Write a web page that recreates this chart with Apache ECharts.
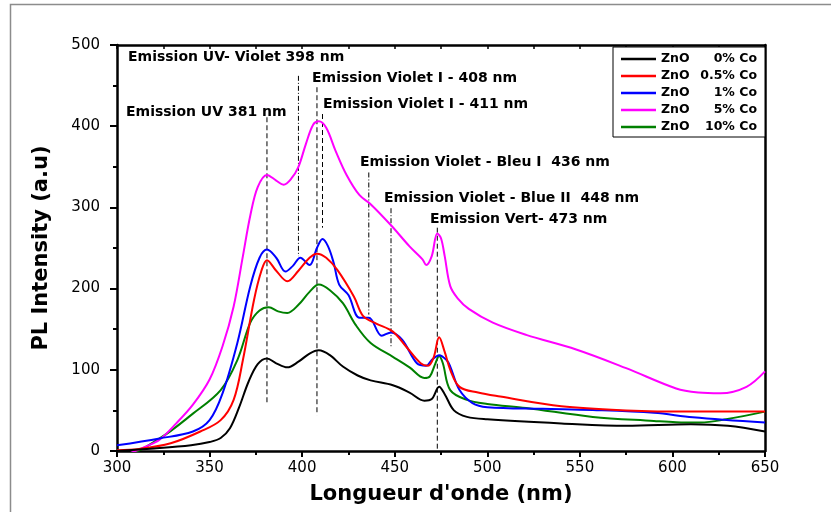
<!DOCTYPE html>
<html>
<head>
<meta charset="utf-8">
<script src="https://cdn.jsdelivr.net/npm/echarts@6/dist/echarts.min.js"></script>
<style>
  html, body { margin: 0; padding: 0; background: #fff; }
  #chart { width: 831px; height: 512px; }
</style>
</head>
<body>
<div id="chart"></div>
<script>
// Photoluminescence spectra of ZnO doped with Co
const seriesNames = ['ZnO 0% Co', 'ZnO 0.5% Co', 'ZnO 1% Co', 'ZnO 5% Co', 'ZnO 10% Co'];
const seriesColors = ['#000000', '#ff0000', '#0000ff', '#ff00ff', '#008000'];

// 0% Co
const wl0 = [300, 320, 340, 350, 356, 361, 366, 371, 376, 381, 386, 392, 398, 404, 409, 415, 422, 430, 437, 449, 458, 466, 470, 474, 477, 482, 489, 500, 540, 575, 610, 630, 650];
const pl0 = [0, 3, 7, 11, 16, 28, 54, 85, 107, 114, 108, 103, 110, 120, 124, 118, 104, 93, 87, 81, 72, 62, 64, 79, 70, 50, 42, 39, 34, 31, 33, 31, 24];

// 0.5% Co
const wl1 = [300, 312, 329, 345, 356, 363, 368, 374, 378, 381, 386, 392, 398, 404, 408, 413, 419, 428, 433, 440, 449, 456, 464, 468, 471, 474, 477, 480, 485, 495, 507, 540, 575, 610, 650];
const pl1 = [1, 2.5, 9.5, 24, 38, 63, 112, 186, 222, 235, 222, 209, 222, 238, 243, 238, 223, 190, 166, 157, 147, 129, 108, 105, 115, 140, 122, 100, 79, 72, 67, 55, 50, 48.5, 48.5];

// 1% Co
const wl2 = [300, 323, 341, 350, 357, 365, 372, 377, 381, 386, 391, 395, 399, 404, 408, 411, 414, 417, 420, 425, 431, 436, 443, 448, 454, 462, 467, 470, 474, 478, 480, 485, 492, 500, 530, 557, 590, 611, 650];
const pl2 = [7, 15.5, 24, 38, 71, 133, 203, 238, 248, 238, 221, 228, 238, 229, 250, 261, 252, 232, 205, 192, 164, 164, 142, 146, 137, 108, 105, 112, 118, 112, 104, 75, 59, 54, 52, 50.5, 47, 41.6, 35];

// 5% Co
const wl3 = [300, 305, 315, 323, 332, 341, 350, 357, 363, 368, 372, 376, 381, 386, 390, 394, 398, 402, 406, 409, 413, 418, 424, 431, 437, 448, 458, 465, 467, 470, 473, 475, 477, 480, 484, 490, 503, 521, 548, 575, 602, 614, 626, 640, 650];
const pl3 = [-5, -4, 5, 14, 34, 57, 88, 129, 178, 240, 290, 325, 340, 333, 328, 335, 350, 378, 402, 406, 398, 370, 340, 315, 304, 278, 252, 236, 229, 240, 268, 262, 240, 203, 188, 175, 158, 143, 125, 102, 77, 72, 71, 79, 98];

// 10% Co
const wl4 = [300, 305, 323, 341, 356, 365, 372, 377, 382, 387, 392, 398, 404, 409, 415, 422, 429, 437, 449, 458, 466, 469, 472, 474, 476, 480, 489, 500, 521, 557, 590, 602, 615, 629, 650];
const pl4 = [-3, -3, 15.5, 46, 75, 112, 158, 173, 177, 172, 170, 180, 196, 205, 198, 182, 155, 133, 116, 103, 90, 92, 108, 117, 108, 75, 63, 58, 53, 42, 37, 35.4, 35, 39, 48.5];

const wavelengths = [wl0, wl1, wl2, wl3, wl4];
const intensities = [pl0, pl1, pl2, pl3, pl4];

// Emission band markers (wavelength, upper and lower end of the guide line)
const bandWl = [381, 398, 408, 411, 436, 448, 473];
const bandTop = [411, 462, 448, 415, 343, 299, 275];
const bandBottom = [57, 240, 44, 275, 168, 127, -5];
const bandDash = ['dash', 'dashdot', 'dash', 'dash', 'dashdot', 'dashdot', 'dash'];

// Band labels
const bandLabels = [
  'Emission UV- Violet 398 nm',
  'Emission Violet I - 408 nm',
  'Emission Violet I - 411 nm',
  'Emission UV 381 nm',
  'Emission Violet - Bleu I  436 nm',
  'Emission Violet - Blue II  448 nm',
  'Emission Vert- 473 nm'
];
const labelPos = [[128, 57], [312, 78], [323, 104], [126, 112], [360, 162], [384, 198], [430, 219]];

const chart = echarts.init(document.getElementById('chart'), null, { renderer: 'canvas' });

const dataSeries = seriesNames.map((name, i) => ({
  name: name,
  type: 'line',
  smooth: 0.35,
  symbol: 'none',
  data: wavelengths[i].map((x, k) => [x, intensities[i][k]]),
  lineStyle: { color: seriesColors[i], width: 2 },
  itemStyle: { color: seriesColors[i] },
  z: 5 + (4 - i)
}));

const bandSeries = bandWl.map((x, i) => ({
  type: 'line',
  silent: true,
  symbol: 'none',
  data: [[x, bandTop[i]], [x, bandBottom[i]]],
  lineStyle: {
    color: '#000',
    width: 1,
    type: bandDash[i] === 'dash' ? [5, 3] : [5, 2, 1, 2]
  },
  z: 3
}));

const font = 'DejaVu Sans';
const legendText = { fontFamily: font, fontWeight: 'bold', fontSize: 12.5, color: '#000', lineHeight: 14 };

chart.setOption({
  animation: false,
  backgroundColor: '#fff',
  grid: { left: 117, right: 66, top: 45, bottom: 61, containLabel: false },
  legend: {
    data: seriesNames,
    orient: 'vertical',
    left: 613,
    top: 47,
    padding: [5, 8, 3, 8],
    icon: 'rect',
    itemWidth: 35,
    itemHeight: 2.5,
    itemGap: 3,
    borderColor: '#000',
    borderWidth: 1,
    borderRadius: 0,
    backgroundColor: '#fff',
    formatter: function (name) {
      const parts = name.split(' ');
      return '{a|' + parts[0] + '}{b|' + parts.slice(1).join(' ') + '}';
    },
    textStyle: Object.assign({}, legendText, {
      rich: {
        a: Object.assign({ width: 34 }, legendText),
        b: Object.assign({ width: 62, align: 'right' }, legendText)
      }
    })
  },
  xAxis: [
    {
      type: 'value',
      position: 'bottom',
      min: 300,
      max: 650,
      interval: 50,
      name: "Longueur d'onde (nm)",
      nameLocation: 'middle',
      nameGap: 33,
      nameTextStyle: { fontFamily: font, fontWeight: 'bold', fontSize: 21, color: '#000' },
      axisLine: { onZero: false, lineStyle: { color: '#000', width: 2.5 } },
      axisTick: { inside: false, length: 6, lineStyle: { color: '#000', width: 2 } },
      minorTick: { show: true, splitNumber: 2, length: 4, lineStyle: { color: '#000', width: 2 } },
      axisLabel: { fontFamily: font, fontSize: 15, color: '#000', margin: 10 },
      splitLine: { show: false }
    },
    {
      type: 'value',
      position: 'top',
      min: 300,
      max: 650,
      interval: 25,
      axisLine: { onZero: false, lineStyle: { color: '#000', width: 2.5 } },
      axisTick: { inside: true, length: 4, lineStyle: { color: '#000', width: 1.5 } },
      axisLabel: { show: false },
      splitLine: { show: false }
    }
  ],
  yAxis: [
    {
      type: 'value',
      position: 'left',
      min: 0,
      max: 500,
      interval: 100,
      name: 'PL Intensity (a.u)',
      nameLocation: 'middle',
      nameGap: 65,
      nameTextStyle: { fontFamily: font, fontWeight: 'bold', fontSize: 21, color: '#000' },
      axisLine: { show: true, onZero: false, lineStyle: { color: '#000', width: 2.5 } },
      axisTick: { show: true, inside: false, length: 7, lineStyle: { color: '#000', width: 2 } },
      minorTick: { show: true, splitNumber: 2, length: 4, lineStyle: { color: '#000', width: 2 } },
      axisLabel: { fontFamily: font, fontSize: 15, color: '#000', margin: 17 },
      splitLine: { show: false }
    },
    {
      type: 'value',
      position: 'right',
      min: 0,
      max: 500,
      interval: 100,
      axisLine: { show: true, onZero: false, lineStyle: { color: '#000', width: 2.5 } },
      axisTick: { show: false },
      axisLabel: { show: false },
      splitLine: { show: false }
    }
  ],
  series: dataSeries.concat(bandSeries),
  graphic: [
    {
      type: 'rect',
      silent: true,
      shape: { x: 10.5, y: 4.5, width: 830, height: 520 },
      style: { fill: 'none', stroke: '#8c8c8c', lineWidth: 1.5 },
      z: -10
    }
  ].concat(bandLabels.map((t, i) => ({
    type: 'text',
    silent: true,
    x: labelPos[i][0],
    y: labelPos[i][1],
    style: {
      text: t,
      fontFamily: font,
      fontWeight: 'bold',
      fontSize: 14,
      fill: '#000',
      verticalAlign: 'middle'
    },
    z: 20
  })))
});
</script>
</body>
</html>
